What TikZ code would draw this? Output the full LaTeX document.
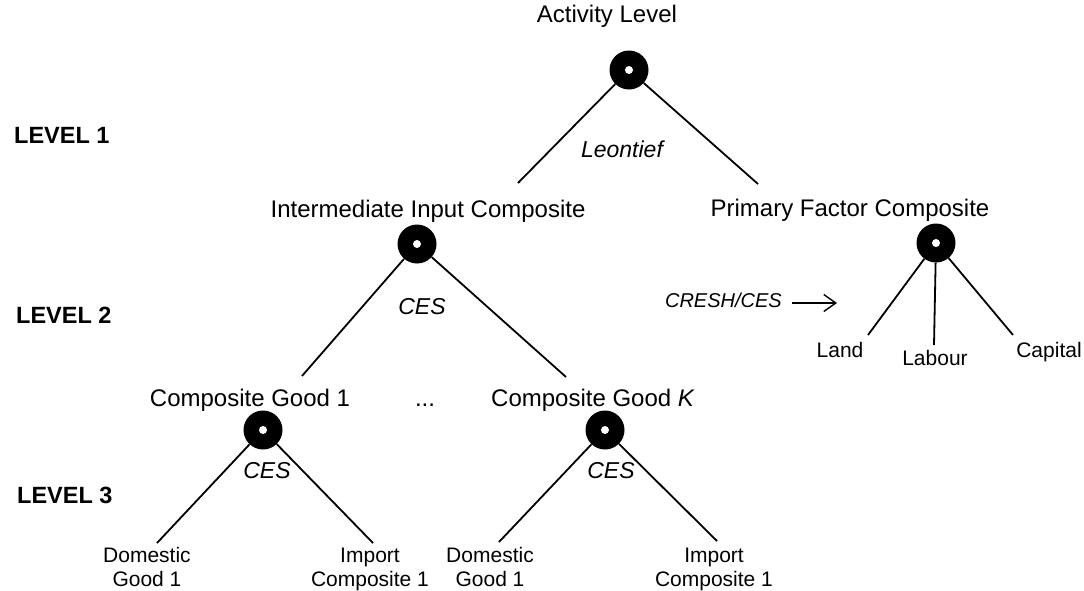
\documentclass[tikz,border=0pt]{standalone}
\usepackage{fontspec}
\setmainfont{Liberation Sans}
\usetikzlibrary{arrows.meta}

\begin{document}
\begin{tikzpicture}[x=1pt,y=-1pt,
  nest/.style={circle,fill=black,minimum size=39pt,inner sep=0pt,
    path picture={\fill[white] (path picture bounding box.center) circle (4pt);}},
  bigtxt/.style={anchor=base,inner sep=0pt,font=\fontsize{24}{28}\selectfont},
  smalltxt/.style={anchor=base,inner sep=0pt,align=center,font=\fontsize{21}{24}\selectfont},
  elast/.style={anchor=base,inner sep=0pt,font=\fontsize{23}{27}\selectfont\itshape},
  lvl/.style={anchor=base west,inner sep=0pt,font=\fontsize{23.5}{27}\selectfont\bfseries},
  branch/.style={line width=1.8pt},
]
\useasboundingbox (0,0) rectangle (1084,590);

% level captions
\node[lvl] (l1) at (14,143) {LEVEL 1};
\node[lvl] (l2) at (16,323) {LEVEL 2};
\node[lvl] (l3) at (17,503) {LEVEL 3};

% level 1: activity
\node[bigtxt] (act) at (607,22) {Activity Level};
\node[nest] (top) at (629,70) {};
\node[elast] (leon) at (622,157) {Leontief};
\coordinate (topL) at (518,183);
\coordinate (topR) at (758,184);
\draw[branch] (top) -- (topL);
\draw[branch] (top) -- (topR);

% level 2: intermediate inputs
\node[bigtxt] (inter) at (428,217) {Intermediate Input Composite};
\node[nest] (int) at (417,244) {};
\node[elast] (ces2) at (422,314) {CES};
\coordinate (intL) at (302,376);
\coordinate (intR) at (566,377);
\draw[branch] (int) -- (intL);
\draw[branch] (int) -- (intR);

% level 2: primary factors
\node[bigtxt] (prim) at (850,216) {Primary Factor Composite};
\node[nest] (pf) at (936,243) {};
\coordinate (pfL) at (868,335);
\coordinate (pfM) at (934,345);
\coordinate (pfR) at (1013,335);
\draw[branch] (pf) -- (pfL);
\draw[branch] (pf) -- (pfM);
\draw[branch] (pf) -- (pfR);
\node[smalltxt] (land) at (840,357) {Land};
\node[smalltxt] (lab) at (935,365) {Labour};
\node[smalltxt] (cap) at (1049,357) {Capital};
\node[elast,anchor=base east,font=\fontsize{20}{24}\selectfont\itshape] (cresh) at (782,307) {CRESH/CES};
\coordinate (arA) at (792,303);
\coordinate (arB) at (837,303);
\draw[line width=1.4pt,-{Straight Barb[length=12pt,width=17pt,line width=1.4pt]}] (arA) -- (arB);

% level 3: composite goods
\node[bigtxt] (cg1t) at (250,406) {Composite Good 1};
\node[bigtxt] (dots) at (425,406) {...};
\node[bigtxt] (cgkt) at (593,406) {Composite Good \textit{K}};
\node[nest] (cg1) at (263,430) {};
\node[nest] (cgk) at (605,430) {};
\node[elast] (ces3a) at (267,478) {CES};
\node[elast] (ces3b) at (611,478) {CES};
\coordinate (cg1L) at (157,543);
\coordinate (cg1R) at (373,543);
\coordinate (cgkL) at (499,542);
\coordinate (cgkR) at (717,541);
\draw[branch] (cg1) -- (cg1L);
\draw[branch] (cg1) -- (cg1R);
\draw[branch] (cgk) -- (cgkL);
\draw[branch] (cgk) -- (cgkR);
% two-line labels: the base anchor sits on the second line
\node[smalltxt] (dom1) at (147,586) {Domestic\\Good 1};
\node[smalltxt] (imp1) at (370,586) {Import\\Composite 1};
\node[smalltxt] (domk) at (490,586) {Domestic\\Good 1};
\node[smalltxt] (impk) at (714,586) {Import\\Composite 1};
\end{tikzpicture}
\end{document}
